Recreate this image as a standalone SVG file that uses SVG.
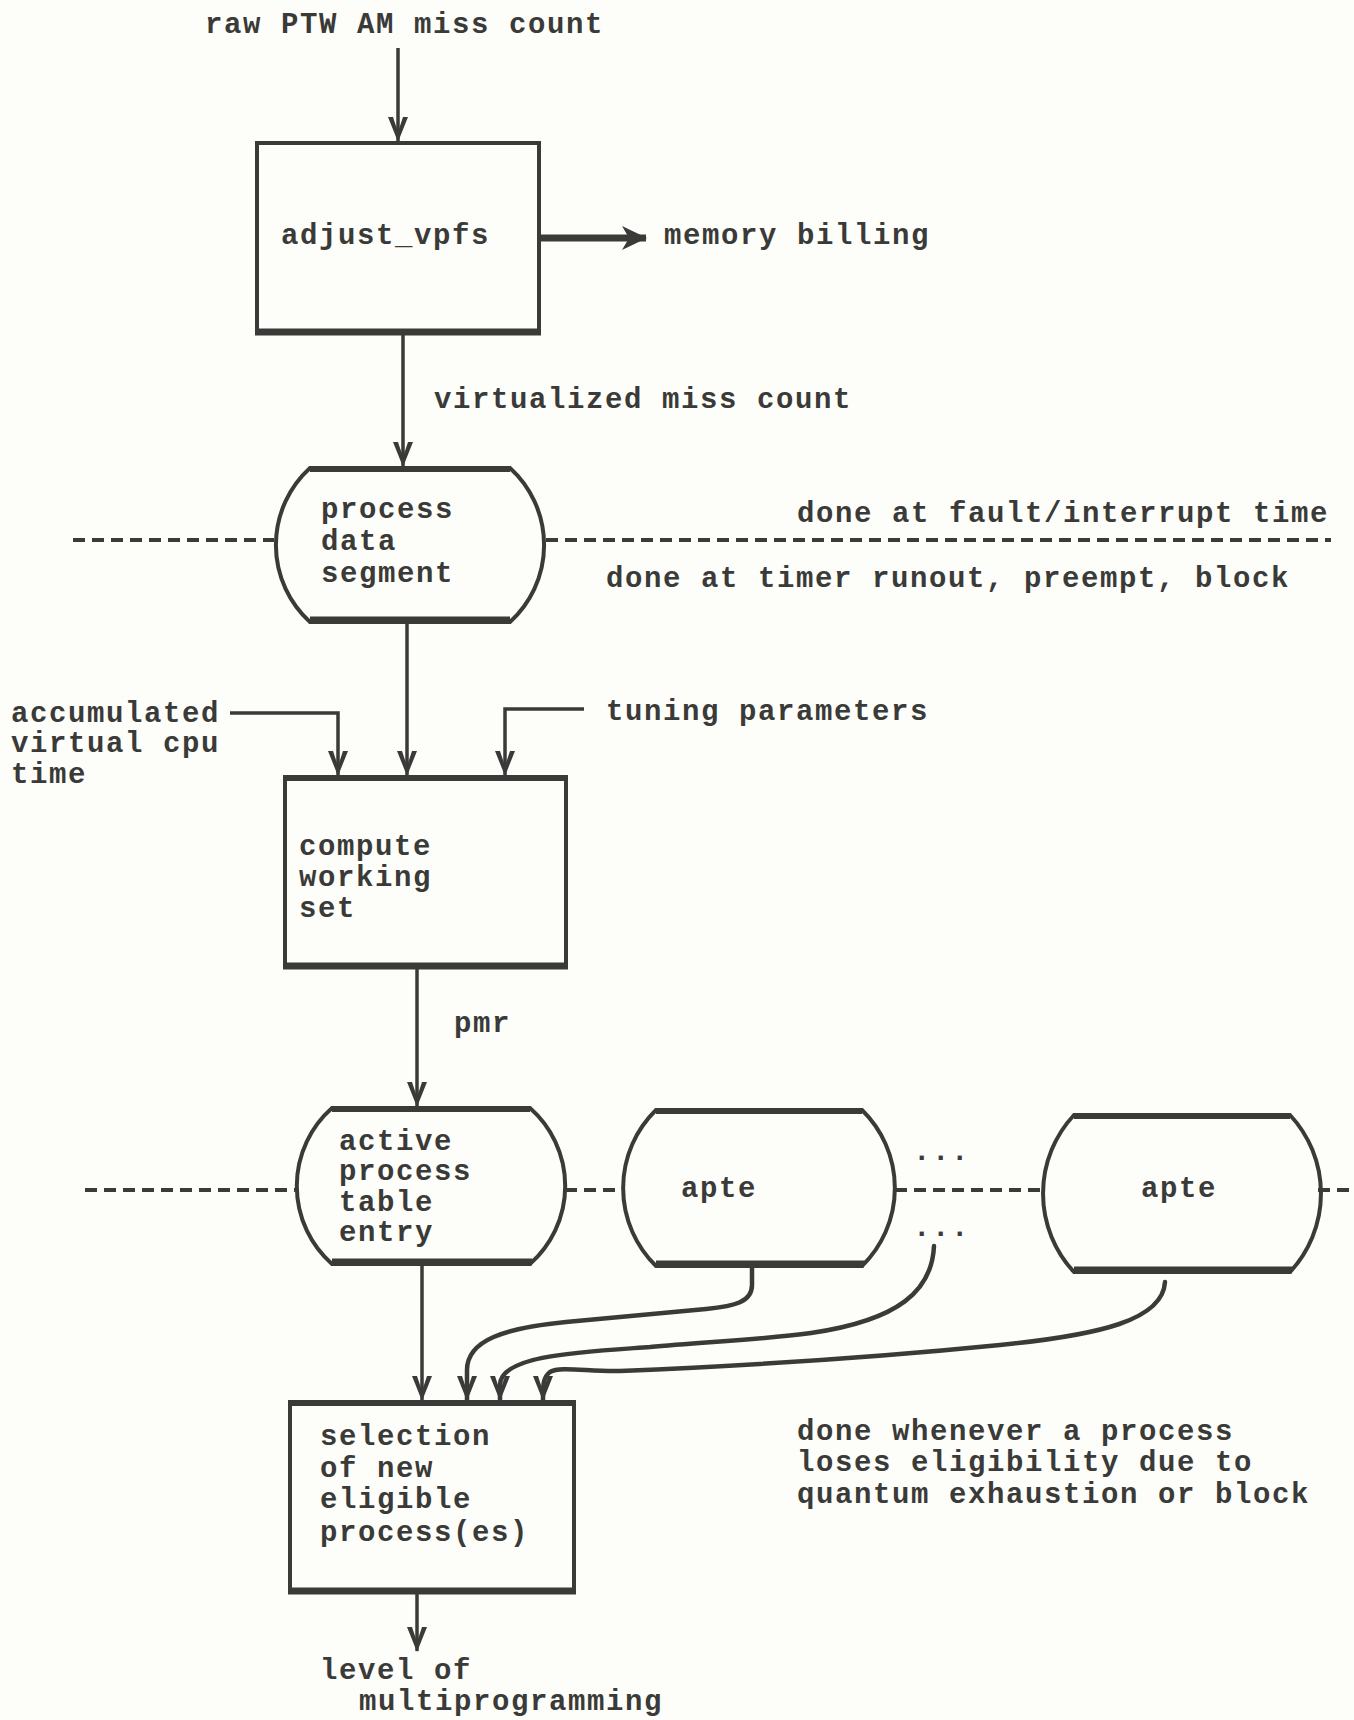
<svg xmlns="http://www.w3.org/2000/svg" width="1354" height="1720" viewBox="0 0 1354 1720">
<defs>
<style>
.t{font-family:"Liberation Mono","DejaVu Sans Mono",monospace;font-weight:bold;font-size:29px;letter-spacing:1.6px;fill:#3a3a38}
.ln{fill:none;stroke:#3a3a38;stroke-width:3.5}
.cv{fill:none;stroke:#3a3a38;stroke-width:4.5;stroke-linecap:round}
.bx{fill:none;stroke:#3a3a38;stroke-width:4}
.edge{stroke:#3a3a38;stroke-width:7}
.top{stroke:#3a3a38;stroke-width:6}
.dash{stroke:#3a3a38;stroke-width:4;stroke-dasharray:12 7}
</style>
<marker id="chev" viewBox="-26 -12 28 24" refX="0" refY="0" markerWidth="28" markerHeight="24" markerUnits="userSpaceOnUse" orient="auto">
<path d="M1,0 L-24,-10 L-24,-5 L-9,0 L-24,5 L-24,10 Z" fill="#3a3a38"/>
</marker>
<marker id="solid" viewBox="-26 -14 28 28" refX="0" refY="0" markerWidth="28" markerHeight="28" markerUnits="userSpaceOnUse" orient="auto">
<path d="M1,0 L-24,-12 L-17,0 L-24,12 Z" fill="#3a3a38"/>
</marker>
</defs>
<rect x="0" y="0" width="1354" height="1720" fill="#fdfdf9"/>

<g id="dividers">
<line class="dash" x1="73" y1="540" x2="274" y2="540"/>
<line class="dash" x1="546" y1="540" x2="1331" y2="540"/>
<line class="dash" x1="85" y1="1190" x2="295" y2="1190"/>
<line class="dash" x1="565" y1="1190" x2="623" y2="1190"/>
<line class="dash" x1="895" y1="1190" x2="1046" y2="1190"/>
<line class="dash" x1="1318" y1="1190" x2="1354" y2="1190"/>
</g>

<g id="connectors">
<line class="ln" x1="398" y1="48" x2="398" y2="141" marker-end="url(#chev)"/>
<line x1="539" y1="238" x2="646" y2="238" stroke="#3a3a38" stroke-width="7" marker-end="url(#solid)"/>
<line class="ln" x1="403" y1="333" x2="403" y2="466" marker-end="url(#chev)"/>
<line class="ln" x1="407" y1="622" x2="407" y2="775" marker-end="url(#chev)"/>
<path class="ln" d="M230,713 H338 V775" marker-end="url(#chev)"/>
<path class="ln" d="M584,709 H505 V775" marker-end="url(#chev)"/>
<line class="ln" x1="417" y1="967" x2="417" y2="1106" marker-end="url(#chev)"/>
<line class="ln" x1="422" y1="1264" x2="422" y2="1400" marker-end="url(#chev)"/>
<path class="cv" d="M752,1266 L752,1285 C752,1302 735,1306 706,1309 L566,1322 C505,1328 467,1340 467,1370 L467,1400" marker-end="url(#chev)"/>
<path class="cv" d="M934,1246 C932,1290 900,1320 811,1333 C760,1340 700,1342 650,1347 C580,1352 500,1355 500,1385 L500,1400" marker-end="url(#chev)"/>
<path class="cv" d="M1165,1282 C1163,1320 1100,1335 1000,1345 C880,1357 740,1366 620,1371 C590,1372 560,1366 550,1372 C543,1377 543,1385 543,1400" marker-end="url(#chev)"/>
<line class="ln" x1="417" y1="1592" x2="417" y2="1651" marker-end="url(#chev)"/>
</g>

<g id="input-label"><text class="t" x="205" y="33">raw PTW AM miss count</text></g>

<g id="adjust_vpfs">
<rect class="bx" x="257" y="143" width="282" height="190"/>
<line class="edge" x1="255" y1="332" x2="541" y2="332"/>
<text class="t" x="281" y="244">adjust_vpfs</text>
</g>
<g id="memory-billing"><text class="t" x="664" y="244">memory billing</text></g>
<g id="virtualized-label"><text class="t" x="434" y="408">virtualized miss count</text></g>

<g id="process-data-segment">
<path class="bx" d="M310,468 H510 A104 104 0 0 1 510,622 H310 A104 104 0 0 1 310,468 Z"/>
<line class="edge" x1="310" y1="620" x2="510" y2="620"/>
<line class="top" x1="310" y1="469" x2="510" y2="469"/>
<text class="t" x="321" y="518">process</text>
<text class="t" x="321" y="550">data</text>
<text class="t" x="321" y="582">segment</text>
</g>

<g id="timing-labels">
<text class="t" x="797" y="522">done at fault/interrupt time</text>
<text class="t" x="606" y="587">done at timer runout, preempt, block</text>
</g>

<g id="accumulated">
<text class="t" x="11" y="722">accumulated</text>
<text class="t" x="11" y="752">virtual cpu</text>
<text class="t" x="11" y="783">time</text>
</g>
<g id="tuning"><text class="t" x="606" y="720">tuning parameters</text></g>

<g id="compute-working-set">
<rect class="bx" x="285" y="777" width="281" height="190"/>
<line class="top" x1="283" y1="778" x2="568" y2="778"/>
<line class="edge" x1="283" y1="966" x2="568" y2="966"/>
<text class="t" x="299" y="855">compute</text>
<text class="t" x="299" y="886">working</text>
<text class="t" x="299" y="917">set</text>
</g>
<g id="pmr"><text class="t" x="454" y="1032">pmr</text></g>

<g id="apte-main">
<path class="bx" d="M332,1108 H530 A104 104 0 0 1 530,1264 H332 A104 104 0 0 1 332,1108 Z"/>
<line class="top" x1="332" y1="1109" x2="530" y2="1109"/>
<line class="edge" x1="332" y1="1262" x2="532" y2="1262"/>
<text class="t" x="339" y="1150">active</text>
<text class="t" x="339" y="1180">process</text>
<text class="t" x="339" y="1211">table</text>
<text class="t" x="339" y="1241">entry</text>
</g>

<g id="apte-1">
<path class="bx" d="M656,1110 H862 A109 109 0 0 1 862,1266 H656 A109 109 0 0 1 656,1110 Z"/>
<line class="top" x1="656" y1="1111" x2="862" y2="1111"/>
<line class="edge" x1="656" y1="1264" x2="864" y2="1264"/>
<text class="t" x="681" y="1197">apte</text>
</g>

<g id="ellipsis">
<text class="t" x="913" y="1160">...</text>
<text class="t" x="913" y="1236">...</text>
</g>

<g id="apte-2">
<path class="bx" d="M1074,1115 H1290 A115 115 0 0 1 1290,1272 H1074 A115 115 0 0 1 1074,1115 Z"/>
<line class="top" x1="1074" y1="1116" x2="1290" y2="1116"/>
<line class="edge" x1="1074" y1="1270" x2="1292" y2="1270"/>
<text class="t" x="1141" y="1197">apte</text>
</g>

<g id="selection">
<rect class="bx" x="290" y="1402" width="284" height="190"/>
<line class="top" x1="288" y1="1403" x2="576" y2="1403"/>
<line class="edge" x1="288" y1="1591" x2="576" y2="1591"/>
<text class="t" x="320" y="1445">selection</text>
<text class="t" x="320" y="1477">of new</text>
<text class="t" x="320" y="1508">eligible</text>
<text class="t" x="320" y="1541">process(es)</text>
</g>

<g id="eligibility-note">
<text class="t" x="797" y="1440">done whenever a process</text>
<text class="t" x="797" y="1471">loses eligibility due to</text>
<text class="t" x="797" y="1503">quantum exhaustion or block</text>
</g>

<g id="output-label">
<text class="t" x="320" y="1679">level of</text>
<text class="t" x="359" y="1710">multiprogramming</text>
</g>
</svg>
